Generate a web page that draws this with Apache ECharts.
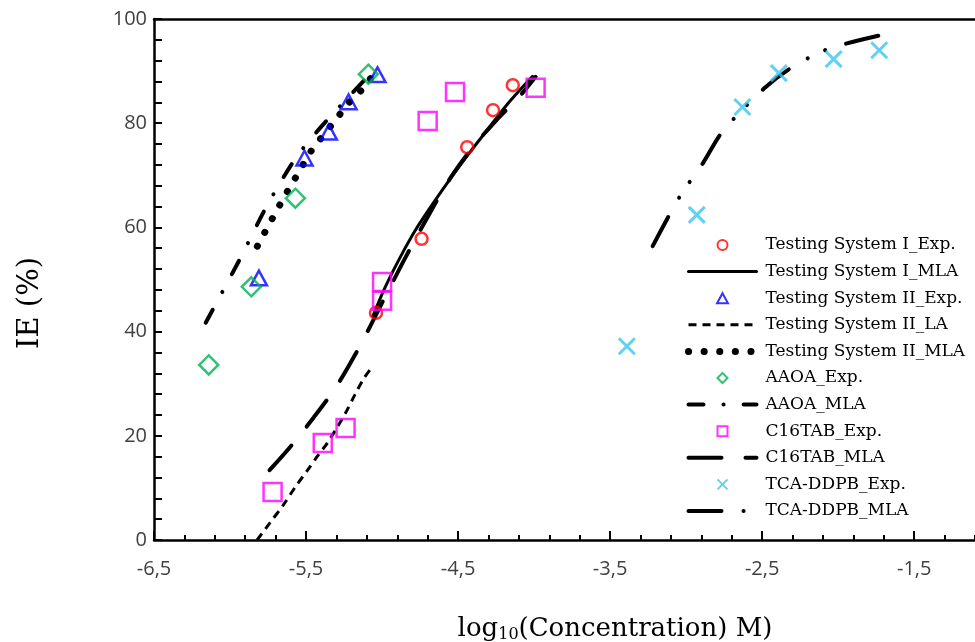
<!DOCTYPE html>
<html><head><meta charset="utf-8">
<script src="https://cdn.jsdelivr.net/npm/echarts@6/dist/echarts.min.js"></script>
<style>html,body{margin:0;padding:0;background:#fff}#c{width:975px;height:642px}</style>
</head><body><div id="c"></div>
<script>
// ---------- tick labels ----------
const xTickLabels = [-6.5, -5.5, -4.5, -3.5, -2.5, -1.5];
const yTickLabels = [0, 20, 40, 60, 80, 100];

// ---------- data ----------
const tsI_exp_x = [-5.04, -4.74, -4.44, -4.27, -4.14];
const tsI_exp_y = [43.6, 57.8, 75.4, 82.5, 87.3];

const tsI_mla_x = [-5.06, -4.98, -4.88, -4.78, -4.66, -4.54, -4.42, -4.30, -4.18, -4.08, -4.01];
const tsI_mla_y = [43.0, 48.5, 54.3, 59.5, 64.8, 69.8, 74.5, 79.0, 83.5, 86.8, 89.0];

const tsII_exp_x = [-5.81, -5.51, -5.35, -5.22, -5.03];
const tsII_exp_y = [50.3, 73.3, 78.3, 84.1, 89.3];

const tsII_la_x = [-5.822, -5.74, -5.65, -5.57, -5.49, -5.42, -5.36, -5.30, -5.24, -5.18, -5.12, -5.07];
const tsII_la_y = [0, 3.2, 6.7, 10.2, 13.4, 16.3, 18.6, 21.4, 24.4, 27.8, 31.0, 33.0];

const tsII_mla_x = [-5.82, -5.72, -5.625, -5.57, -5.47, -5.41, -5.28, -5.22, -5.14, -5.07];
const tsII_mla_y = [56.4, 61.8, 66.8, 69.5, 74.5, 76.8, 81.6, 83.9, 86.2, 88.8];

const aaoa_exp_x = [-6.14, -5.86, -5.57, -5.09];
const aaoa_exp_y = [33.6, 48.6, 65.6, 89.4];

const aaoa_mla_x = [-6.16, -5.93, -5.76, -5.57, -5.41, -5.24, -5.10];
const aaoa_mla_y = [41.7, 54.2, 64.0, 73.2, 79.0, 84.4, 88.8];

const c16_exp_x = [-5.72, -5.39, -5.24, -5.00, -5.00, -4.70, -4.52, -3.99];
const c16_exp_y = [9.2, 18.6, 21.5, 45.9, 49.5, 80.4, 86.0, 86.8];

const c16_mla_x = [-5.74, -5.60, -5.45, -5.30, -5.15, -5.00, -4.85, -4.70, -4.55, -4.40, -4.25, -4.10, -3.99];
const c16_mla_y = [13.4, 18.0, 23.5, 29.5, 37.0, 45.5, 54.0, 62.0, 69.5, 75.5, 80.5, 85.0, 88.9];

const tca_exp_x = [-3.39, -2.93, -2.63, -2.39, -2.03, -1.73];
const tca_exp_y = [37.2, 62.4, 83.1, 89.6, 92.3, 94.0];

const tca_mla_x = [-3.22, -3.04, -2.89, -2.76, -2.49, -2.30, -2.06, -1.72];
const tca_mla_y = [56.4, 66.0, 72.3, 78.4, 86.6, 90.8, 94.3, 96.9];

const seriesNames = [
  'Testing System I_Exp.', 'Testing System I_MLA', 'Testing System II_Exp.',
  'Testing System II_LA', 'Testing System II_MLA', 'AAOA_Exp.', 'AAOA_MLA',
  'C16TAB_Exp.', 'C16TAB_MLA', 'TCA-DDPB_Exp.', 'TCA-DDPB_MLA'
];

// ---------- helpers ----------
const pairs = (xs, ys) => xs.map((x, i) => [x, ys[i]]);
const XMIN = -6.5, XMAX = -1.1;
const xMinorTicks = [];
for (let k = 0; k <= 27; k++) {
  const v = +(XMIN + k * 0.2).toFixed(2);
  if (v <= XMAX && !xTickLabels.includes(v)) xMinorTicks.push(v);
}

const SYM_TRI = 'path://M5,0L10,9.2L0,9.2Z';
const SYM_DIA = 'path://M5,0L10,5L5,10L0,5Z';
const SYM_SQ = 'path://M0,0L10,0L10,10L0,10Z';
const SYM_X = 'path://M0,0L10,10M10,0L0,10';

function scatter(name, xs, ys, symbol, size, color, bw) {
  return {
    type: 'scatter', name, data: pairs(xs, ys), symbol, symbolSize: size,
    symbolKeepAspect: true, z: 5,
    itemStyle: { color: 'rgba(255,255,255,0)', borderColor: color, borderWidth: bw }
  };
}
function line(name, xs, ys, width, type, cap) {
  return {
    type: 'line', name, data: pairs(xs, ys), smooth: 0.3, symbol: 'none', showSymbol: false, z: 3,
    itemStyle: { color: 'rgba(0,0,0,0)', borderWidth: 0 },
    lineStyle: { color: '#000', width, type, cap: cap || 'round' }
  };
}

const tickFont = { fontFamily: 'Open Sans', fontSize: 20, color: '#404040' };

const option = {
  animation: false,
  backgroundColor: '#fff',
  grid: { left: 154, right: 0, top: 19, bottom: 102 },
  xAxis: [
    {
      type: 'value', min: XMIN, max: XMAX, position: 'bottom',
      axisLine: { show: true, onZero: false, lineStyle: { color: '#000', width: 2.5 } },
      axisTick: { show: true, inside: true, length: 9, customValues: xTickLabels, lineStyle: { color: '#000', width: 2 } },
      axisLabel: Object.assign({ customValues: xTickLabels, margin: 19, formatter: v => String(v).replace('.', ',') }, tickFont),
      splitLine: { show: false }
    },
    {
      type: 'value', min: XMIN, max: XMAX, position: 'top',
      axisLine: { show: true, onZero: false, lineStyle: { color: '#000', width: 2.5 } },
      axisTick: { show: false }, axisLabel: { show: false }, splitLine: { show: false }
    },
    {
      type: 'value', min: XMIN, max: XMAX, position: 'bottom',
      axisLine: { show: false, onZero: false },
      axisTick: { show: true, inside: true, length: 5, customValues: xMinorTicks, lineStyle: { color: '#000', width: 2 } },
      axisLabel: { show: false }, splitLine: { show: false }
    }
  ],
  yAxis: {
    type: 'value', min: 0, max: 100, interval: 20,
    axisLine: { show: true, lineStyle: { color: '#000', width: 2.5 } },
    axisTick: { show: true, inside: true, length: 8, lineStyle: { color: '#000', width: 2 } },
    minorTick: { show: true, splitNumber: 5, length: 8, lineStyle: { color: '#000', width: 2 } },
    axisLabel: Object.assign({ margin: 7 }, tickFont),
    splitLine: { show: false }
  },
  legend: {
    orient: 'vertical', left: 680, top: 231, itemWidth: 68, itemHeight: 10, itemGap: 8.6,
    symbolKeepAspect: true,
    lineStyle: { width: 'inherit' },
    selectedMode: false, data: seriesNames,
    textStyle: { fontFamily: 'DejaVu Serif', fontSize: 17, color: '#000', lineHeight: 18, padding: [0, 0, 0, 4] }
  },
  graphic: [
    { type: 'text', x: 30, y: 303, rotation: Math.PI / 2,
      style: { text: 'IE (%)', font: '29px "DejaVu Serif"', align: 'center', verticalAlign: 'middle', fill: '#000' } },
    { type: 'text', x: 615, y: 615,
      style: { text: '{a|log}{s|10}{a|(Concentration) M)}', align: 'center', verticalAlign: 'top',
        rich: { a: { fontFamily: 'DejaVu Serif', fontSize: 26, fill: '#000' },
                s: { fontFamily: 'DejaVu Serif', fontSize: 16, fill: '#000', padding: [12, 0, 0, 0] } } } }
  ],
  series: [
    scatter(seriesNames[0], tsI_exp_x, tsI_exp_y, 'circle', 12, '#ff0000', 2.5),
    line(seriesNames[1], tsI_mla_x, tsI_mla_y, 3, 'solid'),
    scatter(seriesNames[2], tsII_exp_x, tsII_exp_y, SYM_TRI, 16, '#0000ff', 2.5),
    line(seriesNames[3], tsII_la_x, tsII_la_y, 3, [8, 6], 'butt'),
    line(seriesNames[4], tsII_mla_x, tsII_mla_y, 7, [0.1, 15.5], 'round'),
    scatter(seriesNames[5], aaoa_exp_x, aaoa_exp_y, SYM_DIA, 19, '#00b050', 2.5),
    line(seriesNames[6], aaoa_mla_x, aaoa_mla_y, 4, [15, 20, 0.1, 20], 'round'),
    scatter(seriesNames[7], c16_exp_x, c16_exp_y, SYM_SQ, 18, '#ff00ff', 2.5),
    line(seriesNames[8], c16_mla_x, c16_mla_y, 4, [33, 24], 'round'),
    scatter(seriesNames[9], tca_exp_x, tca_exp_y, SYM_X, 16, '#38c6ef', 3),
    line(seriesNames[10], tca_mla_x, tca_mla_y, 4, [33, 22, 0.1, 19, 0.1, 22], 'round')
  ]
};
const chart = echarts.init(document.getElementById('c'), null, { renderer: 'canvas' });
chart.setOption(option);
</script></body></html>
